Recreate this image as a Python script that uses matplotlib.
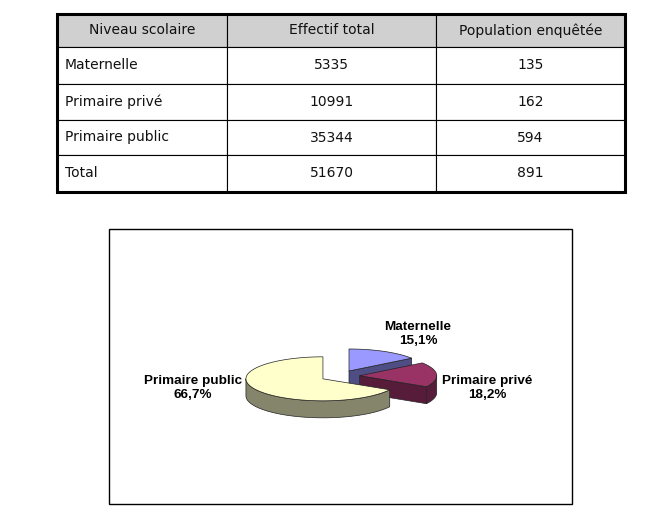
import numpy as np
import matplotlib
matplotlib.use("Agg")
import matplotlib.pyplot as plt
from matplotlib.patches import Rectangle, Polygon

# ---------------- data ----------------
col_labels = ["Niveau scolaire", "Effectif total", "Population enquêtée"]
niveaux = ["Maternelle", "Primaire privé", "Primaire public", "Total"]
effectif_total = [5335, 10991, 35344, 51670]
population = [135, 162, 594, 891]

pie_labels = ["Maternelle", "Primaire privé", "Primaire public"]
pie_pct = [15.1, 18.2, 66.7]

# ---------------- style / layout ----------------
W, H = 662, 524
top_colors = ["#9999ff", "#993366", "#ffffcc"]
side_colors = ["#4e4e85", "#561c39", "#85856c"]
header_color = "#d0d0d0"

fig = plt.figure(figsize=(W / 100, H / 100), dpi=100)
ax = fig.add_axes([0, 0, 1, 1])
ax.set_xlim(0, W)
ax.set_ylim(H, 0)
ax.axis("off")

# ---------------- table ----------------
tx0, ty0, tx1, ty1 = 57, 14, 625, 192
col_w = np.array([170, 209, 189], dtype=float)
row_h = np.array([33, 37, 36, 35, 37], dtype=float)
cell_text = [[n, str(e), str(p)] for n, e, p in zip(niveaux, effectif_total, population)]
tbl = ax.table(cellText=cell_text, colLabels=col_labels,
               colWidths=list(col_w / col_w.sum()),
               cellLoc="center",
               bbox=[tx0 / W, 1 - ty1 / H, (tx1 - tx0) / W, (ty1 - ty0) / H])
tbl.auto_set_font_size(False)
tbl.set_fontsize(10)
for (r, c), cell in tbl.get_celld().items():
    cell.set_edgecolor("black")
    cell.set_linewidth(0.8)
    cell.set_height(row_h[r] / row_h.sum())
    cell.get_text().set_fontfamily("DejaVu Sans")
    cell.get_text().set_color("#111111")
    if r == 0:
        cell.set_facecolor(header_color)
    if r > 0 and c == 0:
        cell.get_text().set_horizontalalignment("left")
        cell._loc = "left"
        cell.PAD = 0.047
ax.add_patch(Rectangle((tx0, ty0), tx1 - tx0, ty1 - ty0, fill=False,
                       edgecolor="black", linewidth=2.2, zorder=10))

# ---------------- chart box ----------------
ax.add_patch(Rectangle((109, 229), 463, 275, fill=False, edgecolor="black",
                       linewidth=1.0, zorder=1))

# ---------------- 3D exploded pie ----------------
cx, cy = 340, 376
a, b = 77.0, 22.0
depth = 17.0
explode = 0.256

vals = np.array(pie_pct, dtype=float)
bounds = np.concatenate([[0], np.cumsum(vals) / vals.sum() * 360.0])


def pt(x0, y0, th, dz=0.0):
    t = np.radians(th)
    return (x0 + a * np.sin(t), y0 - b * np.cos(t) + dz)


edge_kw = dict(edgecolor="#222222", linewidth=0.5, joinstyle="round")

for i in range(len(vals)):
    t1, t2 = bounds[i], bounds[i + 1]
    mid = np.radians((t1 + t2) / 2)
    ox = cx + explode * a * np.sin(mid)
    oy = cy - explode * b * np.cos(mid)
    z = 2 + i * 0.1

    # radial faces
    for th, sgn in ((t1, -1), (t2, 1)):
        tr = np.radians(th)
        n_back = sgn * (-np.sin(tr))  # back component of outward normal
        if n_back < -1e-6:
            p_top = pt(ox, oy, th)
            poly = [(ox, oy), p_top, (p_top[0], p_top[1] + depth), (ox, oy + depth)]
            ax.add_patch(Polygon(poly, closed=True, facecolor=side_colors[i],
                                 zorder=z, **edge_kw))

    # outer side (front half only)
    s1, s2 = max(t1, 90.0), min(t2, 270.0)
    if s2 > s1:
        ths = np.linspace(s1, s2, 80)
        topp = [pt(ox, oy, t) for t in ths]
        botp = [pt(ox, oy, t, depth) for t in ths[::-1]]
        ax.add_patch(Polygon(topp + botp, closed=True, facecolor=side_colors[i],
                             zorder=z + 0.01, **edge_kw))

    # top face
    ths = np.linspace(t1, t2, 200)
    poly = [(ox, oy)] + [pt(ox, oy, t) for t in ths]
    ax.add_patch(Polygon(poly, closed=True, facecolor=top_colors[i],
                         zorder=z + 0.02, **edge_kw))

# labels
label_pos = [(418, 334), (487, 388), (193, 388)]
for lab, v, (lx, ly) in zip(pie_labels, pie_pct, label_pos):
    ax.text(lx, ly, f"{lab}\n{v:.1f}%".replace(".", ","), ha="center", va="center",
            fontsize=9.7, fontweight="bold", family="Liberation Sans",
            color="black", linespacing=1.15, zorder=20)

fig.savefig("out.png", dpi=100, facecolor="white")
